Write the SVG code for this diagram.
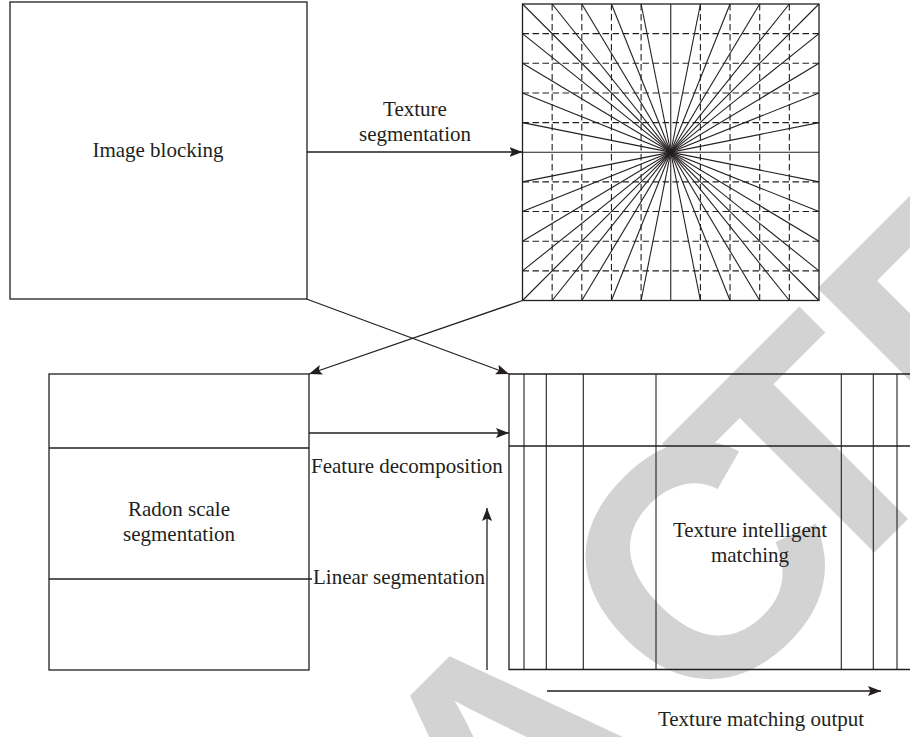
<svg xmlns="http://www.w3.org/2000/svg" width="910" height="737" viewBox="0 0 910 737">
<defs>
<style>
.ln{stroke:#231f20;stroke-width:1.3;fill:none}
.thin{stroke:#231f20;stroke-width:1.1;fill:none}
.dash{stroke:#231f20;stroke-width:1.1;fill:none;stroke-dasharray:6.5 3.5}
.t{font-family:"Liberation Serif","Times New Roman",serif;font-size:21px;fill:#231f20}
.c{text-anchor:middle}
.wm{font-family:"Liberation Sans",Arial,sans-serif;font-weight:bold;font-size:330px;fill:#d3d3d3}
</style>
<marker id="ah" markerUnits="userSpaceOnUse" markerWidth="14" markerHeight="11" refX="13" refY="5" orient="auto">
<path d="M0,0 L13,5 L0,10 L2.5,5 z" fill="#231f20"/>
</marker>
</defs>
<rect width="910" height="737" fill="#ffffff"/>
<g id="watermark">
<text class="wm" transform="translate(-106.4,1533.3) rotate(-45)" dx="0 0 0 0 -32 32 -65 0 0">RETRACTED</text>
</g>
<g id="image-blocking">
<rect class="ln" x="10" y="2" width="297" height="297"/>
<text class="t c" x="158" y="157">Image blocking</text>
</g>
<g id="texture-grid">
<g class="dash">
<line x1="552.15" y1="4" x2="552.15" y2="300.5"/>
<line x1="581.8" y1="4" x2="581.8" y2="300.5"/>
<line x1="611.45" y1="4" x2="611.45" y2="300.5"/>
<line x1="641.1" y1="4" x2="641.1" y2="300.5"/>
<line x1="700.4" y1="4" x2="700.4" y2="300.5"/>
<line x1="730.05" y1="4" x2="730.05" y2="300.5"/>
<line x1="759.7" y1="4" x2="759.7" y2="300.5"/>
<line x1="789.35" y1="4" x2="789.35" y2="300.5"/>
<line x1="522.5" y1="33.65" x2="819" y2="33.65"/>
<line x1="522.5" y1="63.3" x2="819" y2="63.3"/>
<line x1="522.5" y1="92.95" x2="819" y2="92.95"/>
<line x1="522.5" y1="122.6" x2="819" y2="122.6"/>
<line x1="522.5" y1="181.9" x2="819" y2="181.9"/>
<line x1="522.5" y1="211.55" x2="819" y2="211.55"/>
<line x1="522.5" y1="241.2" x2="819" y2="241.2"/>
<line x1="522.5" y1="270.85" x2="819" y2="270.85"/>
</g>
<g class="thin">
<line x1="522.5" y1="4" x2="819" y2="300.5"/>
<line x1="552.15" y1="4" x2="789.35" y2="300.5"/>
<line x1="581.8" y1="4" x2="759.7" y2="300.5"/>
<line x1="611.45" y1="4" x2="730.05" y2="300.5"/>
<line x1="641.1" y1="4" x2="700.4" y2="300.5"/>
<line x1="670.75" y1="4" x2="670.75" y2="300.5"/>
<line x1="700.4" y1="4" x2="641.1" y2="300.5"/>
<line x1="730.05" y1="4" x2="611.45" y2="300.5"/>
<line x1="759.7" y1="4" x2="581.8" y2="300.5"/>
<line x1="789.35" y1="4" x2="552.15" y2="300.5"/>
<line x1="819" y1="4" x2="522.5" y2="300.5"/>
<line x1="522.5" y1="33.65" x2="819" y2="270.85"/>
<line x1="522.5" y1="63.3" x2="819" y2="241.2"/>
<line x1="522.5" y1="92.95" x2="819" y2="211.55"/>
<line x1="522.5" y1="122.6" x2="819" y2="181.9"/>
<line x1="522.5" y1="152.25" x2="819" y2="152.25"/>
<line x1="522.5" y1="181.9" x2="819" y2="122.6"/>
<line x1="522.5" y1="211.55" x2="819" y2="92.95"/>
<line x1="522.5" y1="241.2" x2="819" y2="63.3"/>
<line x1="522.5" y1="270.85" x2="819" y2="33.65"/>
</g>
<rect class="ln" x="522.5" y="4" width="296.5" height="296.5"/>
</g>
<g id="radon-scale-segmentation">
<rect class="ln" x="49" y="374" width="260" height="296"/>
<line class="ln" x1="49" y1="448" x2="309" y2="448"/>
<line class="ln" x1="49" y1="579" x2="312" y2="579"/>
<text class="t c" x="179" y="516">Radon scale</text>
<text class="t c" x="179" y="541">segmentation</text>
</g>
<g id="texture-intelligent-matching">
<path class="ln" d="M910,374 H509 V669.5 H910 M509,446 H910"/>
<g class="thin">
<line x1="524" y1="374" x2="524" y2="669.5"/>
<line x1="546.3" y1="374" x2="546.3" y2="669.5"/>
<line x1="583.3" y1="374" x2="583.3" y2="669.5"/>
<line x1="656" y1="374" x2="656" y2="669.5"/>
<line x1="841.3" y1="374" x2="841.3" y2="669.5"/>
<line x1="873.3" y1="374" x2="873.3" y2="669.5"/>
<line x1="897" y1="374" x2="897" y2="669.5"/>
</g>
<text class="t c" x="750" y="537">Texture intelligent</text>
<text class="t c" x="750" y="562">matching</text>
</g>
<g id="connectors">
<line class="ln" x1="307" y1="152" x2="522.5" y2="152" marker-end="url(#ah)"/>
<line class="ln" x1="306.5" y1="299" x2="509" y2="374" marker-end="url(#ah)"/>
<line class="ln" x1="522.5" y1="300.5" x2="309" y2="374" marker-end="url(#ah)"/>
<line class="ln" x1="309" y1="433" x2="509" y2="433" marker-end="url(#ah)"/>
<line class="ln" x1="487" y1="670" x2="487" y2="508" marker-end="url(#ah)"/>
<line class="ln" x1="547" y1="691" x2="881" y2="691" marker-end="url(#ah)"/>
</g>
<g id="labels">
<text class="t c" x="415" y="116">Texture</text>
<text class="t c" x="415" y="141">segmentation</text>
<text class="t" x="311" y="473">Feature decomposition</text>
<text class="t" x="313" y="584">Linear segmentation</text>
<text class="t c" x="761" y="726">Texture matching output</text>
</g>
</svg>
